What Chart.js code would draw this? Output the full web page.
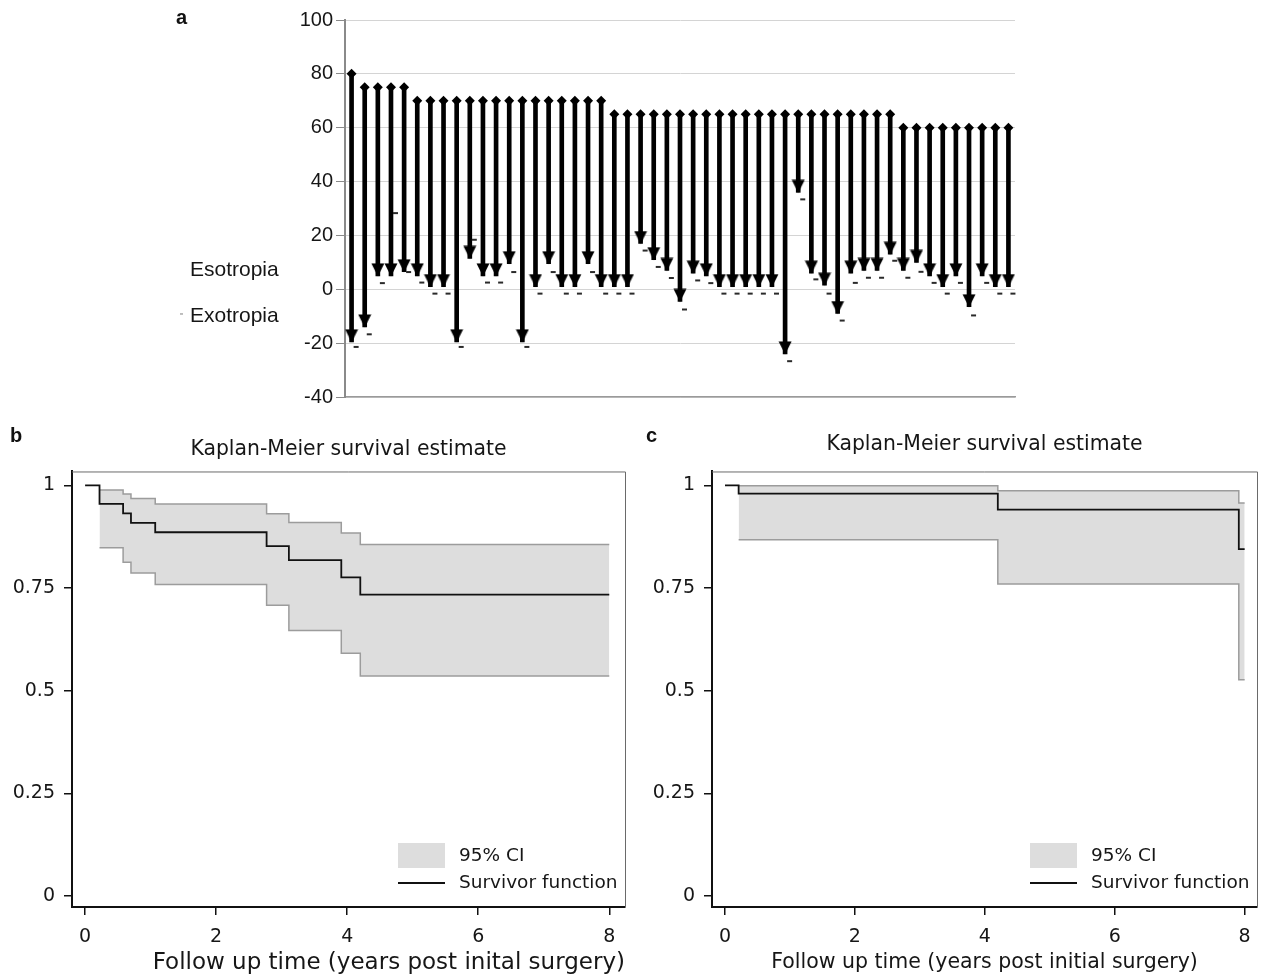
<!DOCTYPE html>
<html>
<head>
<meta charset="utf-8">
<script src="https://cdn.jsdelivr.net/npm/chart.js@4.4.0/dist/chart.umd.min.js"></script>
<style>
body { margin: 0; background: #fff; }
#wrap { position: relative; width: 1263px; height: 977px; overflow: hidden; }
.panel { position: absolute; }
.lbl { position: absolute; font: bold 20px "Liberation Sans", Arial, sans-serif; color: #111; }
</style>
</head>
<body>
<div id="wrap">
  <div class="panel" style="left:0;top:0;width:1263px;height:420px"><canvas id="chartA"></canvas></div>
  <div class="panel" style="left:0;top:425px;width:640px;height:552px"><canvas id="chartB"></canvas></div>
  <div class="panel" style="left:640px;top:425px;width:623px;height:552px"><canvas id="chartC"></canvas></div>
  <div class="lbl" style="left:176px;top:6px">a</div>
  <div class="lbl" style="left:10px;top:424px">b</div>
  <div class="lbl" style="left:646px;top:424px">c</div>
</div>
<script>
// Panel a: deviation before (diamond) and after surgery (arrow tip), plus the dash marker
const preAngle = [80, 75, 75, 75, 75,
    70, 70, 70, 70, 70, 70, 70, 70, 70, 70, 70, 70, 70, 70, 70,
    65, 65, 65, 65, 65, 65, 65, 65, 65, 65, 65, 65, 65, 65, 65, 65, 65, 65, 65, 65, 65, 65,
    60, 60, 60, 60, 60, 60, 60, 60, 60];
const postAngle = [-19.5, -14, 5, 5, 6.5,
    5, 1, 1, -19.5, 11.5, 5, 5, 9.5, -19.5, 1, 9.5, 1, 1, 9.5, 1,
    1, 1, 17, 11, 7, -4.5, 6, 5, 1, 1, 1, 1, 1, -24, 36, 6, 1.5, -9, 6, 7, 7, 13,
    7, 10, 5, 1, 5, -6.5, 5, 1, 1];
const dashAngle = [-21.4, -16.7, 2.3, 28.3, 6.4,
    2.5, -1.6, -1.6, -21.4, 18.4, 2.5, 2.5, 6.4, -21.4, -1.6, 6.4, -1.6, -1.6, 6.4, -1.6,
    -1.6, -1.6, 14.4, 8.3, 4.2, -7.5, 3.3, 2.3, -1.6, -1.6, -1.6, -1.6, -1.6, -26.7, 33.4, 3.7, -1.6, -11.6, 2.4, 4.3, 4.3, 10.6,
    4.3, 6.5, 2.4, -1.6, 2.4, -9.7, 2.4, -1.6, -1.6];
const angleTicks = [-40, -20, 0, 20, 40, 60, 80, 100];
const sideLabels = ['Esotropia', 'Exotropia'];
const sideLabelAt = [7, -10];

// Panel b: Kaplan-Meier, cohort 1
const bTime = [0, 0.22, 0.58, 0.70, 1.07, 2.77, 3.11, 3.91, 4.2, 8.0];
const bSurv = [1, 0.955, 0.932, 0.909, 0.886, 0.852, 0.818, 0.776, 0.734, 0.734];
const bCiTime = [0.22, 0.58, 0.70, 1.07, 2.77, 3.11, 3.91, 4.2, 8.0];
const bUpper = [0.989, 0.979, 0.968, 0.955, 0.931, 0.910, 0.884, 0.856, 0.856];
const bLower = [0.848, 0.813, 0.787, 0.759, 0.708, 0.647, 0.591, 0.536, 0.536];

// Panel c: Kaplan-Meier, cohort 2
const cTime = [0, 0.21, 4.2, 7.91, 8.0];
const cSurv = [1, 0.98, 0.941, 0.845, 0.845];
const cCiTime = [0.21, 4.2, 7.91, 8.0];
const cUpper = [0.9995, 0.987, 0.957, 0.957];
const cLower = [0.868, 0.76, 0.527, 0.527];

const kmXTicks = [0, 2, 4, 6, 8];
const kmYTicks = [0, 0.25, 0.5, 0.75, 1];

Chart.defaults.animation = false;
Chart.defaults.plugins.tooltip.enabled = false;
Chart.defaults.plugins.legend.display = false;

const ARIAL = '"Liberation Sans", Arial, sans-serif';
const KMFONT = '"DejaVu Sans", Verdana, sans-serif';
const INK = '#161616';

// marker images: arrow head with its tip at the image centre, dash offset to the right
function makeArrowHead() {
    const c = document.createElement('canvas');
    c.width = 14; c.height = 26;
    const g = c.getContext('2d');
    g.fillStyle = '#000';
    g.beginPath();
    g.moveTo(0.5, 0.5); g.lineTo(13.5, 0.5); g.lineTo(7, 13.5);
    g.closePath(); g.fill();
    return c;
}
function makeDash(color) {
    const c = document.createElement('canvas');
    c.width = 22; c.height = 6;
    const g = c.getContext('2d');
    g.fillStyle = color;
    g.fillRect(13, 2, 5, 2);
    return c;
}
const arrowHead = makeArrowHead();
const dashMark = makeDash('#2a2a2a');

const sideLegend = {
    id: 'sideLegend',
    afterDraw(chart) {
        const { ctx, chartArea, scales } = chart;
        const x = chartArea.left - 155;
        ctx.save();
        ctx.font = '21px ' + ARIAL;
        ctx.fillStyle = INK;
        ctx.textBaseline = 'middle';
        sideLabels.forEach((t, i) => {
            ctx.fillText(t, x, scales.y.getPixelForValue(sideLabelAt[i]));
        });
        ctx.fillStyle = '#aaa';
        ctx.fillRect(x - 10, scales.y.getPixelForValue(sideLabelAt[1]) - 3, 3, 1.5);
        ctx.restore();
    }
};

new Chart(document.getElementById('chartA'), {
    type: 'bar',
    data: {
        labels: preAngle.map((_, i) => String(i + 1)),
        datasets: [
            {
                label: 'after',
                type: 'line',
                data: postAngle,
                showLine: false,
                pointStyle: arrowHead,
                pointRadius: 3
            },
            {
                label: 'before',
                type: 'line',
                data: preAngle,
                showLine: false,
                pointStyle: 'rectRot',
                pointRadius: 5,
                pointBackgroundColor: '#000',
                pointBorderColor: '#000',
                pointBorderWidth: 0
            },
            {
                label: 'Exotropia',
                type: 'line',
                data: dashAngle,
                showLine: false,
                pointStyle: dashMark,
                pointRadius: 3
            },
            {
                label: 'change',
                data: preAngle.map((v, i) => [postAngle[i], v]),
                backgroundColor: '#000',
                barThickness: 4
            }
        ]
    },
    options: {
        responsive: true,
        maintainAspectRatio: false,
        layout: { padding: { left: 0, top: 20, right: 248, bottom: 23 } },
        scales: {
            x: {
                grid: { display: false },
                ticks: { display: false },
                border: { color: '#9a9a9a', width: 1.5 },
                afterFit: s => { s.height = 0; }
            },
            y: {
                min: -40,
                max: 100,
                afterBuildTicks: s => { s.ticks = angleTicks.map(v => ({ value: v })); },
                ticks: { color: INK, font: { family: ARIAL, size: 20 }, padding: 3 },
                grid: { color: '#d4d4d4', tickColor: '#8a8a8a', tickLength: 9 },
                border: { color: '#8a8a8a', width: 2 },
                afterFit: s => { s.width = 345; }
            }
        }
    },
    plugins: [sideLegend]
});

// Kaplan-Meier panels
const kmFrame = {
    id: 'kmFrame',
    afterDraw(chart) {
        const { ctx, chartArea: a } = chart;
        ctx.save();
        ctx.strokeStyle = '#6a6a6a';
        ctx.lineWidth = 1;
        ctx.beginPath();
        ctx.moveTo(a.left, a.top + 0.5);
        ctx.lineTo(a.right + 0.5, a.top + 0.5);
        ctx.lineTo(a.right + 0.5, a.bottom);
        ctx.stroke();
        ctx.restore();
    }
};

const kmLegend = {
    id: 'kmLegend',
    afterDraw(chart) {
        const { ctx, chartArea: a } = chart;
        const ds = chart.data.datasets;
        const x0 = a.right - 227;
        ctx.save();
        ctx.fillStyle = ds[0].backgroundColor;
        ctx.fillRect(x0, a.bottom - 64, 47, 25);
        ctx.strokeStyle = ds[2].borderColor;
        ctx.lineWidth = ds[2].borderWidth;
        ctx.beginPath();
        ctx.moveTo(x0, a.bottom - 24);
        ctx.lineTo(x0 + 47, a.bottom - 24);
        ctx.stroke();
        ctx.fillStyle = INK;
        ctx.font = '18.5px ' + KMFONT;
        ctx.textBaseline = 'middle';
        ctx.fillText(ds[0].label, x0 + 61, a.bottom - 51);
        ctx.fillText(ds[2].label, x0 + 61, a.bottom - 24);
        ctx.restore();
    }
};

function kmChart(id, time, surv, ciTime, upper, lower, xTitle, opts) {
    const pts = (xs, ys) => xs.map((t, i) => ({ x: t, y: ys[i] }));
    return new Chart(document.getElementById(id), {
        type: 'line',
        data: {
            datasets: [
                {
                    label: '95% CI',
                    data: pts(ciTime, upper),
                    stepped: true,
                    borderColor: '#9c9c9c',
                    borderWidth: 1.5,
                    backgroundColor: '#dddddd',
                    fill: '+1',
                    pointRadius: 0,
                    order: 1
                },
                {
                    label: 'lower',
                    data: pts(ciTime, lower),
                    stepped: true,
                    borderColor: '#9c9c9c',
                    borderWidth: 1.5,
                    fill: false,
                    pointRadius: 0,
                    order: 1
                },
                {
                    label: 'Survivor function',
                    data: pts(time, surv),
                    stepped: true,
                    borderColor: '#111111',
                    borderWidth: 1.8,
                    fill: false,
                    pointRadius: 0,
                    order: 0
                }
            ]
        },
        options: {
            responsive: true,
            maintainAspectRatio: false,
            layout: { padding: { left: 0, top: 0, right: opts.rightPad, bottom: 0 } },
            plugins: {
                filler: { drawTime: 'beforeDatasetsDraw' },
                title: {
                    display: true,
                    text: 'Kaplan-Meier survival estimate',
                    fullSize: false,
                    color: INK,
                    font: { family: KMFONT, size: 20.4, weight: 'normal' },
                    padding: opts.titlePad
                }
            },
            scales: {
                x: {
                    type: 'linear',
                    min: -0.2,
                    max: opts.xMax,
                    afterBuildTicks: s => { s.ticks = kmXTicks.map(v => ({ value: v })); },
                    ticks: { color: INK, font: { family: KMFONT, size: 19 }, padding: 11, callback: v => String(v) },
                    grid: { drawOnChartArea: false, color: '#111', tickLength: 8, lineWidth: 1.5 },
                    border: { color: '#111', width: 2 },
                    title: {
                        display: true,
                        text: xTitle,
                        align: opts.xTitleAlign,
                        color: INK,
                        font: { family: KMFONT, size: opts.xTitleSize },
                        padding: { top: 0, bottom: opts.xTitleBottom }
                    },
                    afterFit: s => { s.height = 70; }
                },
                y: {
                    min: -0.0267,
                    max: 1.034,
                    afterBuildTicks: s => { s.ticks = kmYTicks.map(v => ({ value: v })); },
                    ticks: { color: INK, font: { family: KMFONT, size: 19 }, padding: 9, callback: v => String(v) },
                    grid: { drawOnChartArea: false, color: '#111', tickLength: 8, lineWidth: 1.5 },
                    border: { color: '#111', width: 2 },
                    afterFit: s => { s.width = 72; }
                }
            }
        },
        plugins: [kmFrame, kmLegend]
    });
}

kmChart('chartB', bTime, bSurv, bCiTime, bUpper, bLower,
    'Follow up time (years post inital surgery)',
    { xMax: 8.24, rightPad: 15, titlePad: { top: 12, bottom: 10 }, xTitleSize: 23, xTitleBottom: 0, xTitleAlign: 'end' });
kmChart('chartC', cTime, cSurv, cCiTime, cUpper, cLower,
    'Follow up time (years post initial surgery)',
    { xMax: 8.19, rightPad: 6, titlePad: { top: 7, bottom: 15 }, xTitleSize: 20.5, xTitleBottom: 2, xTitleAlign: 'center' });
</script>
</body>
</html>
